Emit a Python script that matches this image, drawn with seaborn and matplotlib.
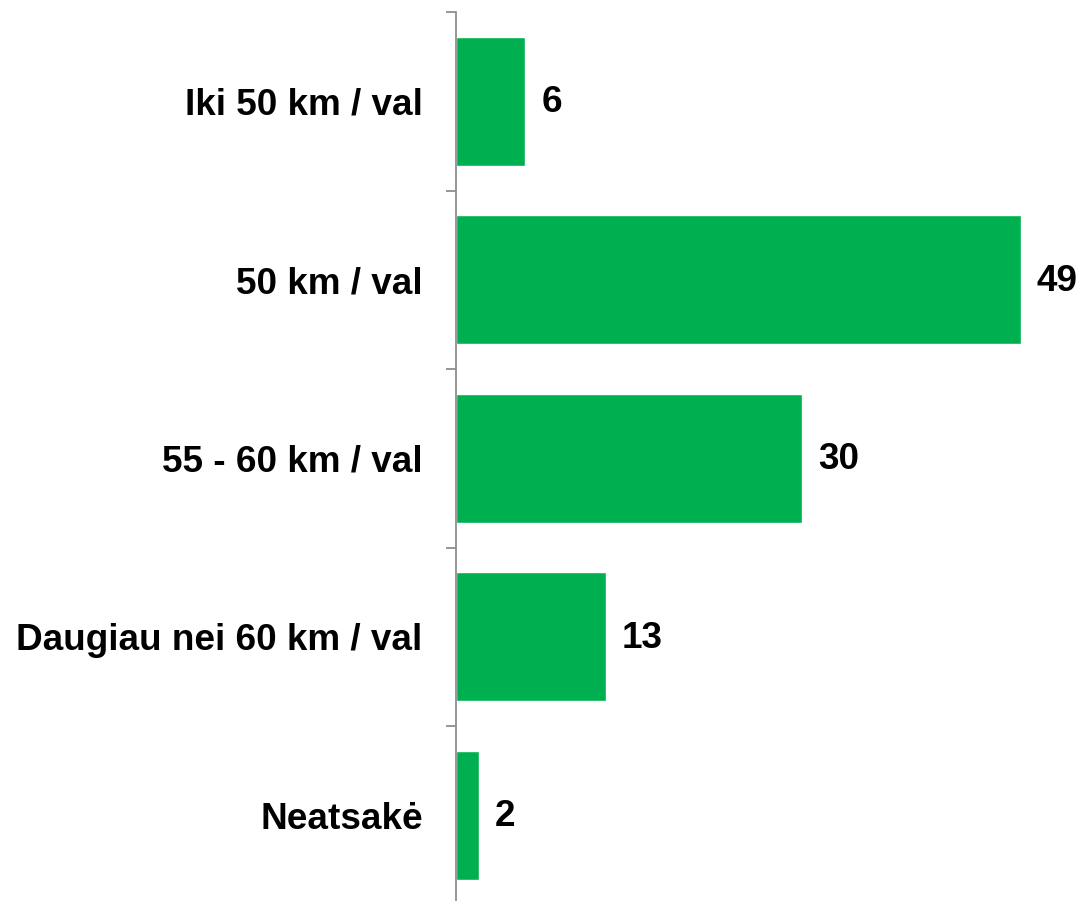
import matplotlib
matplotlib.use('Agg')
import matplotlib.pyplot as plt
import seaborn as sns
import numpy as np

# Data
categories = ['Iki 50 km / val', '50 km / val', '55 - 60 km / val',
              'Daugiau nei 60 km / val', 'Neatsakė']
values = [6, 49, 30, 13, 2]

sns.set_style('white')
plt.rcParams['font.family'] = ['Liberation Sans', 'DejaVu Sans']

fig = plt.figure(figsize=(10.8, 9.01), dpi=100)
ax = fig.add_axes([456 / 1080, -3.5 / 901, 624 / 1080, 892.5 / 901])

sns.barplot(x=values, y=categories, orient='h', color='#00B050',
            saturation=1, width=0.72, ax=ax)

ax.set_xlim(0, 624 / 11.53)
ax.set_ylim(len(categories) - 0.5, -0.5)

# value labels
for i, v in enumerate(values):
    ax.annotate(str(v), xy=(v, i), xytext=(11.5, -1), textcoords='offset points',
                ha='left', va='center', fontsize=26.6, fontweight='bold', color='black')

# spines
for s in ['top', 'right', 'bottom']:
    ax.spines[s].set_visible(False)
ax.spines['left'].set_color('#8f8f8f')
ax.spines['left'].set_linewidth(1.3)

ax.set_xticks([])
ax.set_yticks(np.arange(-0.5, len(categories), 1.0), minor=True)
ax.tick_params(axis='y', which='minor', length=7.5, width=1.3, color='#8f8f8f', left=True)
ax.tick_params(axis='y', which='major', length=0, pad=24)
for lbl in ax.get_yticklabels():
    lbl.set_fontsize(26.6)
    lbl.set_fontweight('bold')
    lbl.set_color('black')
ax.set_xlabel('')
ax.set_ylabel('')

fig.savefig('out.png', dpi=100)
